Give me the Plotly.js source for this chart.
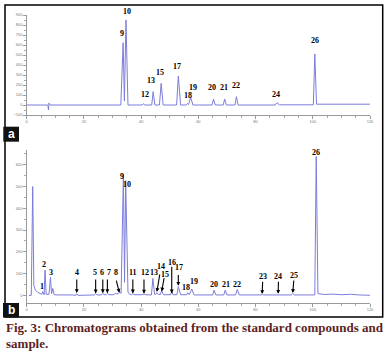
<!DOCTYPE html>
<html><head><meta charset="utf-8">
<script src="https://cdn.plot.ly/plotly-3.0.1.min.js"></script>
<style>html,body{margin:0;padding:0;background:#fff;}#chart{width:392px;height:351px;}</style>
</head><body><div id="chart"></div>
<script>
// ---- Chromatogram a (standard compounds): retention time (min) and signal
const timeA   = [0, 7.4, 7.6, 7.8, 8.2, 32.9, 33.7, 34.15, 34.7, 35.4, 40.3, 40.8, 41.3, 43.7, 44.2, 44.8, 46.4, 47.0, 47.7, 52.4, 53.0, 53.8, 55.8, 56.2, 56.6, 57.3, 58.1, 64.8, 65.3, 65.9, 68.7, 69.2, 69.8, 72.8, 73.3, 73.9, 86.8, 87.5, 88.3, 100.2, 100.7, 101.3, 120];
const signalA = [0, 0, -50, 20, 0, 0, 623, 40, 850, 0, 0, 12, 0, 0, 133, 0, 0, 217, 0, 0, 290, 0, 0, 15, 5, 77, 0, 0, 60, 0, 0, 60, 0, 0, 83, 0, 0, 23, 2, 2, 510, 8, 8];
const peakNumA = ["9", "10", "12", "13", "15", "17", "18", "19", "20", "21", "22", "24", "26"];
const peakRtA  = [33.7, 34.7, 40.8, 44.2, 47.0, 53.0, 56.2, 57.3, 65.3, 69.2, 73.3, 87.5, 100.7];
const peakHtA  = [623, 850, 12, 133, 217, 290, 15, 77, 60, 60, 83, 23, 510];

// ---- Chromatogram b (sample)
const timeB   = [0.8, 1.6, 2.1, 2.5, 3.0, 3.8, 4.8, 5.3, 5.6, 5.9, 6.1, 6.4, 6.8, 7.8, 8.3, 8.7, 9.1, 9.6, 11, 16, 17.1, 17.5, 17.9, 23.6, 24.1, 24.6, 26.1, 26.6, 27.1, 27.8, 28.2, 28.7, 30.5, 31.0, 31.6, 32.4, 33.0, 33.8, 34.2, 34.6, 35.4, 36.0, 36.7, 37.1, 37.5, 40.5, 41.0, 41.5, 43.6, 44.1, 44.7, 45.1, 45.5, 46.0, 46.7, 47.2, 47.8, 50.3, 50.7, 51.1, 52.5, 53.0, 53.8, 55.9, 56.3, 56.8, 57.7, 58.5, 65.0, 65.5, 66.1, 68.9, 69.4, 70.0, 73.0, 73.6, 74.3, 81.9, 82.3, 82.8, 87.4, 87.9, 88.5, 92.5, 93.0, 93.6, 100.7, 101.2, 101.8, 104.0, 107.0, 110.0, 113.6, 116.0, 121];
const signalB = [0, 0, 500, 45, 25, 15, 8, 5, 17, 5, 3, 116, 5, 5, 83, 8, 32, 3, 2, 2, 0, 8, 0, 2, 8, 2, 2, 9, 3, 3, 9, 3, 3, 10, 6, 13, 10, 557, 60, 527, 15, 5, 3, 8, 3, 3, 6, 3, 2, 78, 5, 4, 12, 4, 4, 22, 3, 3, 18, 3, 3, 40, 3, 3, 12, 3, 29, 2, 2, 24, 2, 2, 24, 2, 2, 27, 2, 2, 4, 2, 2, 5, 2, 2, 8, 2, 2, 638, 8, 4, 6, 3, 5, 2, 0];
const peakNumB = ["1","2","3","4","5","6","7","8","9","10","11","12","13","14","15","16","17","18","19","20","21","22","23","24","25","26"];
const peakRtB  = [5.6, 6.4, 8.3, 17.5, 24.1, 26.6, 28.2, 32.4, 33.8, 34.6, 37.1, 41.0, 44.1, 45.5, 47.2, 50.7, 53.0, 56.3, 57.7, 65.5, 69.4, 73.6, 82.3, 87.9, 93.0, 101.2];

// caption lines
const captionLines = ["Fig. 3: Chromatograms obtained from the standard compounds and", "sample."];

// label layout (offsets / positions of text, not data)
const labelYShiftA = [3, 2, 3, 5, 4, 3, 1, 3, 5, 5, 5, 2, 7];
const labelXOffA   = [-0.4, 0.2, 0.6, -0.7, -0.4, -0.6, 0.3, 1.0, -0.6, -0.2, -0.3, -0.5, 0];
const labelPosB = { // [x, y] in axis units
  "1":[5.45,40],"2":[6.15,143],"3":[8.39,104],"4":[17.48,104],"5":[23.88,104],"6":[26.43,104],
  "7":[28.67,104],"8":[31.33,104],"9":[33.22,546],"10":[35.17,511],"11":[37.27,104],"12":[41.26,104],
  "13":[44.51,104],"14":[47.06,132],"15":[48.46,97],"16":[50.91,150],"17":[53.15,127],"18":[55.6,38],
  "19":[58.5,65],"20":[65.38,52],"21":[69.69,52],"22":[73.64,52],"23":[82.52,86],"24":[87.97,86],
  "25":[93.36,90],"26":[101.05,656]
};
const arrowB = { // peak: [tailX, tailY, headY]
  "4":[17.5,80,11],"5":[24.1,80,9],"6":[26.6,80,10],"7":[28.2,80,10],"8":[31.2,75,12],
  "11":[37.1,80,9],"12":[41.0,80,8],"14":[46.6,103,16],"15":[48.1,86,18],"16":[50.7,139,9],
  "17":[53.0,101,44],"23":[82.5,70,6],"24":[88.0,70,7],"25":[93.4,75,11]
};

const W = 392, H = 351;
const px = v => v / W, py = v => 1 - v / H;
const lineColor = '#7c7cdb';
const axisCommon = {
  showline: true, linecolor: '#9a9a9a', linewidth: 1, showgrid: false, zeroline: false,
  ticks: 'outside', ticklen: 2.5, tickcolor: '#9a9a9a', tickwidth: 1,
  tickfont: {size: 4, color: '#777', family: 'Arial, Liberation Sans'}, fixedrange: true
};
const xdom = [px(26.7), px(370)];

const traces = [
  {x: timeA, y: signalA, type: 'scatter', mode: 'lines', line: {color: lineColor, width: 1}, xaxis: 'x', yaxis: 'y', hoverinfo: 'skip'},
  {x: timeB, y: signalB, type: 'scatter', mode: 'lines', line: {color: lineColor, width: 1}, xaxis: 'x2', yaxis: 'y2', hoverinfo: 'skip'}
];

const numFont = {family: 'Liberation Serif, Times New Roman, serif', size: 8, color: '#000000'};
const annotations = [];
peakNumA.forEach((n, i) => {
  annotations.push({xref: 'x', yref: 'y', x: peakRtA[i] + labelXOffA[i], y: peakHtA[i], text: '<b>' + n + '</b>',
    showarrow: false, yanchor: 'bottom', xanchor: 'center', yshift: labelYShiftA[i], font: numFont});
});
peakNumB.forEach((n, i) => {
  const p = labelPosB[n];
  annotations.push({xref: 'x2', yref: 'y2', x: p[0], y: p[1], text: '<b>' + n + '</b>',
    showarrow: false, yanchor: 'middle', xanchor: 'center', font: numFont});
  if (arrowB[n]) {
    const a = arrowB[n];
    annotations.push({xref: 'x2', yref: 'y2', axref: 'x2', ayref: 'y2', x: peakRtB[i], y: a[2], ax: a[0], ay: a[1],
      text: '', showarrow: true, arrowhead: 2, arrowsize: 0.7, arrowwidth: 1.1, arrowcolor: '#000'});
  }
});
// panel badges
annotations.push({xref: 'paper', yref: 'paper', x: px(11.2), y: py(134.2), text: '<b>a</b>', showarrow: false,
  font: {family: 'Liberation Sans, Arial', size: 12, color: '#fff'}, xanchor: 'center', yanchor: 'middle'});
annotations.push({xref: 'paper', yref: 'paper', x: px(11.2), y: py(310), text: '<b>b</b>', showarrow: false,
  font: {family: 'Liberation Sans, Arial', size: 12, color: '#fff'}, xanchor: 'center', yanchor: 'middle'});
// caption (two lines)
const capY = [327.5, 343.5];
captionLines.forEach((t, i) => {
  annotations.push({xref: 'paper', yref: 'paper', x: px(4), y: py(capY[i]), xanchor: 'left', yanchor: 'middle', align: 'left',
    text: '<b>' + t + '</b>', showarrow: false,
    font: {family: 'Liberation Serif, Times New Roman, serif', size: 13, color: '#5e1f1f'}});
});

const shapes = [
  {type: 'rect', xref: 'paper', yref: 'paper', x0: px(5), x1: px(382.7), y0: py(317), y1: py(5), line: {color: '#000', width: 1.5}},
  {type: 'rect', xref: 'paper', yref: 'paper', x0: px(3.3), x1: px(19), y0: py(141.7), y1: py(126.7), fillcolor: '#111', line: {width: 0}},
  {type: 'rect', xref: 'paper', yref: 'paper', x0: px(3), x1: px(19), y0: py(317.5), y1: py(303), fillcolor: '#111', line: {width: 0}}
];

const layout = {
  width: W, height: H, margin: {l: 0, r: 0, t: 0, b: 0},
  paper_bgcolor: '#fff', plot_bgcolor: '#fff', showlegend: false,
  xaxis: Object.assign({}, axisCommon, {domain: xdom, range: [0, 120], anchor: 'y', tickvals: [0,20,40,60,80,100,120],
    minor: {dtick: 5, ticks: 'outside', ticklen: 1.5, tickcolor: '#aaa'}}),
  yaxis: Object.assign({}, axisCommon, {domain: [py(115), py(15)], range: [-100, 900], anchor: 'x',
    tickvals: [-100,0,100,200,300,400,500,600,700,800,900], minor: {dtick: 50, ticks: 'outside', ticklen: 1.5, tickcolor: '#aaa'}}),
  xaxis2: Object.assign({}, axisCommon, {domain: xdom, range: [0, 120], anchor: 'y2', tickvals: [0,20,40,60,80,100,120],
    minor: {dtick: 5, ticks: 'outside', ticklen: 1.5, tickcolor: '#aaa'}}),
  yaxis2: Object.assign({}, axisCommon, {domain: [py(303), py(150)], range: [-35, 668], anchor: 'x2',
    tickvals: [0,100,200,300,400,500,600], minor: {dtick: 50, ticks: 'outside', ticklen: 1.5, tickcolor: '#aaa'}}),
  annotations: annotations, shapes: shapes
};
Plotly.newPlot('chart', traces, layout, {staticPlot: true, displayModeBar: false});
</script>
</body></html>
